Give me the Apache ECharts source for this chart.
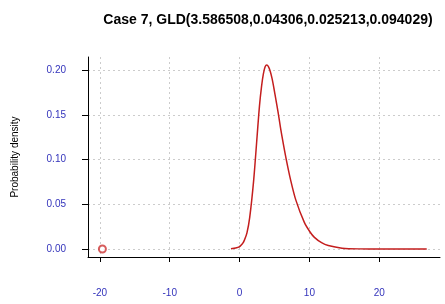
<!DOCTYPE html>
<html>
<head>
<meta charset="utf-8">
<script src="https://cdn.jsdelivr.net/npm/echarts@6/dist/echarts.min.js"></script>
<style>
  html, body { margin: 0; padding: 0; background: #fff; }
  #main { width: 445px; height: 304px; }
</style>
</head>
<body>
<div id="main"></div>
<script>
var chartDom = document.getElementById('main');
var myChart = echarts.init(chartDom);

var titleText = 'Case 7, GLD(3.586508,0.04306,0.025213,0.094029)';
var xTicks = [-20, -10, 0, 10, 20];
var yTicks = [0, 0.05, 0.10, 0.15, 0.20];

// density curve
var densX = [-1.23, -0.12, 0.42, 0.68, 1.06, 1.45, 2.01, 2.51, 2.85, 3.15, 3.41, 3.66, 3.90,
  4.15, 4.39, 4.65, 4.92, 5.21, 5.52, 5.86, 6.26, 6.72, 7.29, 8.05, 9.26, 10.09, 10.72,
  11.74, 12.70, 14.68, 17.04, 20.0, 26.8];
var densY = [0.0002, 0.002, 0.006, 0.0096, 0.018, 0.035, 0.076, 0.126, 0.160, 0.182, 0.196, 0.204, 0.206,
  0.204, 0.199, 0.191, 0.180, 0.167, 0.153, 0.136, 0.118, 0.099, 0.078, 0.055, 0.030, 0.019, 0.013,
  0.007, 0.0038, 0.0009, 0.0001, 0, 0];
// lower end point (open circle)
var lowPoint = [-19.64, 0];

var curve = [];
for (var i = 0; i < densX.length; i++) {
  curve.push([densX[i], densY[i]]);
}

var labelColor = '#3333bb';
var gridStyle = { show: true, lineStyle: { color: '#cccccc', type: [2, 3], width: 1 } };

var option = {
  animation: false,
  title: {
    text: titleText,
    left: 263,
    textAlign: 'center',
    top: 8,
    textStyle: { fontFamily: 'Liberation Sans, Arial', fontSize: 14, fontWeight: 'bold', color: '#000' }
  },
  grid: { left: 88, right: 5, top: 57, bottom: 47 },
  xAxis: {
    type: 'value',
    min: -21.7,
    max: 28.7,
    axisLine: { show: true, onZero: false, lineStyle: { color: '#000', width: 1 } },
    axisTick: { show: true, length: 5, customValues: xTicks, lineStyle: { color: '#000' } },
    axisLabel: {
      customValues: xTicks,
      margin: 31,
      color: labelColor,
      fontFamily: 'Liberation Sans, Arial',
      fontSize: 10
    },
    splitLine: gridStyle
  },
  yAxis: {
    type: 'value',
    min: -0.009,
    max: 0.215,
    name: 'Probability density',
    nameLocation: 'middle',
    nameGap: 68,
    nameTextStyle: { fontFamily: 'Liberation Sans, Arial', fontSize: 10, color: '#000' },
    axisLine: { show: true, onZero: false, lineStyle: { color: '#000', width: 1 } },
    axisTick: { show: true, length: 6, customValues: yTicks, lineStyle: { color: '#000' } },
    axisLabel: {
      customValues: yTicks,
      margin: 22,
      color: labelColor,
      fontFamily: 'Liberation Sans, Arial',
      fontSize: 10,
      formatter: function (v) { return v.toFixed(2); }
    },
    splitLine: gridStyle
  },
  series: [
    {
      type: 'line',
      data: curve,
      smooth: 0.3,
      showSymbol: false,
      lineStyle: { color: '#c41e1e', width: 1.5 }
    },
    {
      type: 'scatter',
      data: [lowPoint],
      symbol: 'emptyCircle',
      symbolSize: 7,
      itemStyle: { color: '#cc3333', borderColor: '#cc3333', borderWidth: 1 }
    }
  ]
};

myChart.setOption(option);
</script>
</body>
</html>
